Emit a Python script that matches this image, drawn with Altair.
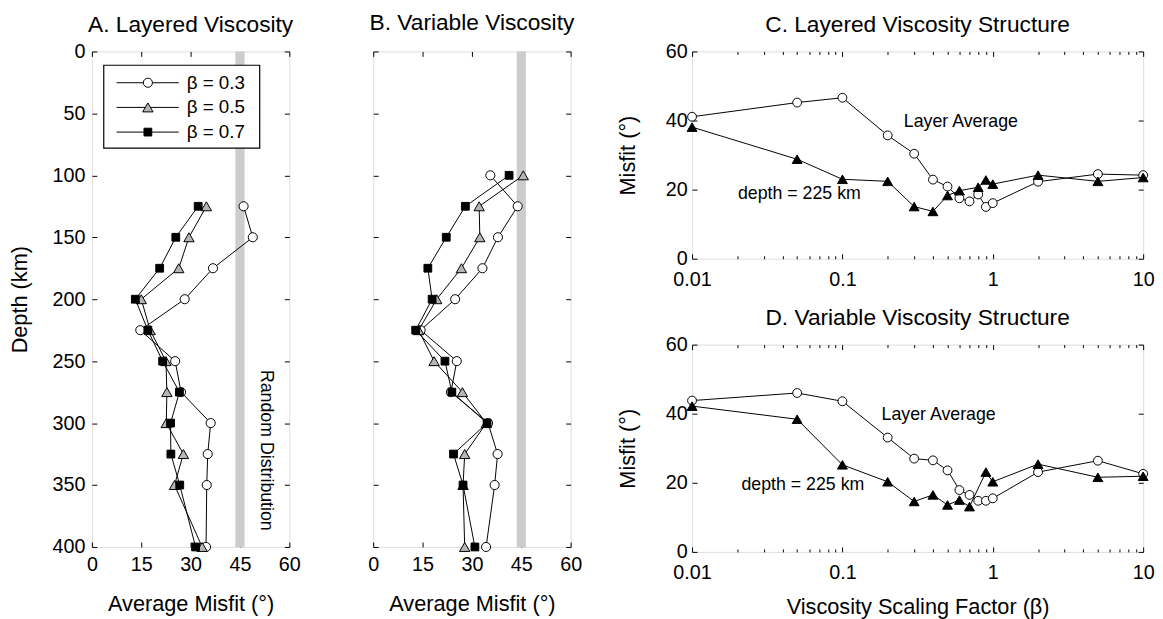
import altair as alt
import pandas as pd

FONT = "Liberation Sans"

# ---------------- data ----------------
series_labels = ["β = 0.3", "β = 0.5", "β = 0.7"]

# Panel A: Layered Viscosity
depth_A = [125, 150, 175, 200, 225, 250, 275, 300, 325, 350, 400]
A_beta03 = [46.1, 48.9, 36.8, 28.2, 14.7, 25.3, 27.1, 36.1, 35.2, 34.9, 34.7]
A_beta05 = [34.8, 29.5, 26.4, 15.0, 17.7, 22.5, 22.8, 22.6, 27.8, 25.1, 33.5]
A_beta07 = [32.3, 25.5, 20.6, 13.2, 17.0, 21.5, 26.6, 23.9, 24.0, 26.7, 31.5]

# Panel B: Variable Viscosity
depth_B = [100, 125, 150, 175, 200, 225, 250, 275, 300, 325, 350, 400]
B_beta03 = [35.6, 43.9, 37.9, 33.2, 24.9, 14.4, 25.4, 23.6, 34.9, 37.8, 36.9, 34.3]
B_beta05 = [45.6, 32.2, 32.4, 26.8, 19.3, 13.8, 18.5, 27.1, 34.4, 27.8, 27.3, 27.8]
B_beta07 = [41.3, 28.0, 22.2, 16.6, 17.9, 12.9, 21.8, 23.9, 34.6, 24.4, 27.3, 30.9]

# random-distribution misfit band (grey)
random_band = [43.6, 46.4]

# Panel C: Layered Viscosity Structure
beta_avg = [0.01, 0.05, 0.1, 0.2, 0.3, 0.4, 0.5, 0.6, 0.7, 0.8, 0.9, 1, 2, 5, 10]
C_avg = [41.1, 45.2, 46.6, 35.7, 30.4, 22.9, 20.9, 17.5, 16.6, 18.6, 15.0, 16.1, 22.3, 24.5, 24.2]
beta_C_225 = [0.01, 0.05, 0.1, 0.2, 0.3, 0.4, 0.5, 0.6, 0.8, 0.9, 1, 2, 5, 10]
C_225 = [38.1, 28.8, 23.0, 22.4, 15.1, 13.7, 18.3, 19.7, 20.7, 22.8, 21.6, 24.2, 22.4, 23.5]

# Panel D: Variable Viscosity Structure
D_avg = [43.8, 46.0, 43.6, 33.1, 27.0, 26.5, 23.6, 17.9, 16.5, 14.8, 14.8, 15.5, 23.1, 26.4, 22.6]
beta_D_225 = [0.01, 0.05, 0.1, 0.2, 0.3, 0.4, 0.5, 0.6, 0.7, 0.9, 1, 2, 5, 10]
D_225 = [42.2, 38.4, 25.2, 20.3, 14.6, 16.5, 13.6, 15.0, 13.1, 23.1, 20.3, 25.4, 21.6, 21.9]

# annotations
note_A_text = ["Random Distribution"]
note_A_misfit = [53]
note_A_depth = [322]
notes_CD_text = ["Layer Average", "depth = 225 km"]
notes_C_beta = [0.256, 0.0202]
notes_C_misfit = [39.7, 18.8]
notes_D_beta = [0.182, 0.0213]
notes_D_misfit = [39.5, 19.3]

# tick values
xticks_AB = [0, 15, 30, 45, 60]
yticks_AB = [0, 50, 100, 150, 200, 250, 300, 350, 400]
xticks_CD = [0.01, 0.1, 1, 10]
xminor_CD = [0.02, 0.03, 0.04, 0.05, 0.06, 0.07, 0.08, 0.09,
             0.2, 0.3, 0.4, 0.5, 0.6, 0.7, 0.8, 0.9,
             2, 3, 4, 5, 6, 7, 8, 9]
yticks_CD = [0, 20, 40, 60]

# ---------------- styling ----------------
W_AB, H_AB = 200, 502
W_CD, H_CD = 457, 210
TICK_FS, AXT_FS, TITLE_FS = 20, 22, 23

AB_MARK = {
    "β = 0.3": dict(shape="circle", fill="white", size=85),
    "β = 0.5": dict(shape="triangle-up", fill="#b5b5b5", size=110),
    "β = 0.7": dict(shape="square", fill="black", size=62),
}

TK = dict(labels=False, domain=False, grid=False, title=None,
          tickColor="black", tickWidth=1)


def lab_axis(orient, values, title, lpad, tpad, fmt=None):
    kw = dict(orient=orient, values=values, ticks=False, domain=False, grid=False,
              labelFont=FONT, labelFontSize=TICK_FS, labelColor="black",
              labelPadding=lpad, labelOverlap=False, labelFlush=False,
              titleFont=FONT, titleFontSize=AXT_FS, titleFontWeight="normal",
              titleColor="black", titlePadding=tpad)
    if fmt:
        kw["format"] = fmt
    kw["title"] = title
    return alt.Axis(**kw)


def carriers(df, X, Y, W, H, xlab, ylab, xmaj, ymaj, xmin=None, tmaj=5, tmin=3):
    base = alt.Chart(df).mark_point(opacity=0)
    out = [base.encode(x=X(xlab), y=Y(ylab))]
    out.append(base.encode(
        x=X(alt.Axis(orient="top", offset=-H, values=xmaj, tickSize=tmaj, **TK)),
        y=Y(alt.Axis(orient="right", offset=-W, values=ymaj, tickSize=tmaj, **TK))))
    out.append(base.encode(
        x=X(alt.Axis(orient="bottom", offset=-H, values=xmaj, tickSize=tmaj, **TK)),
        y=Y(alt.Axis(orient="left", offset=-W, values=ymaj, tickSize=tmaj, **TK))))
    if xmin:
        for o in ("top", "bottom"):
            out.append(base.encode(
                x=X(alt.Axis(orient=o, offset=-H, values=xmin, tickSize=tmin, **TK)),
                y=Y(None)))
    return out


def title_params(t, off):
    return alt.TitleParams(t, font=FONT, fontSize=TITLE_FS, fontWeight="normal",
                           color="black", offset=off, anchor="middle")


def panel_ab(depths, series_vals, title, show_y, legend, note, toff):
    xs = alt.Scale(domain=[0, 60], nice=False, zero=False)
    ys = alt.Scale(domain=[0, 400], reverse=True, nice=False, zero=False)

    def X(ax, f="misfit"):
        return alt.X(f"{f}:Q", scale=xs, axis=ax)

    def Y(ax, f="depth"):
        return alt.Y(f"{f}:Q", scale=ys, axis=ax)

    layers = []
    band = alt.Chart(pd.DataFrame({"lo": [random_band[0]], "hi": [random_band[1]]})).mark_rect(
        color="#cccccc").encode(x=X(None, "lo"), x2="hi:Q", y=alt.value(0), y2=alt.value(H_AB))
    layers.append(band)

    frames = []
    for lab, vals in zip(series_labels, series_vals):
        df = pd.DataFrame({"depth": depths, "misfit": vals})
        frames.append(df)
        st = AB_MARK[lab]
        layers.append(alt.Chart(df).mark_line(color="black", strokeWidth=1).encode(
            x=X(None), y=Y(None), order="depth:Q"))
        layers.append(alt.Chart(df).mark_point(
            filled=True, shape=st["shape"], fill=st["fill"], stroke="black",
            strokeWidth=1, size=st["size"], opacity=1, fillOpacity=1).encode(
            x=X(None), y=Y(None)))

    if note:
        ndf = pd.DataFrame({"t": note_A_text, "x": note_A_misfit, "d": note_A_depth})
        layers.append(alt.Chart(ndf).mark_text(
            angle=90, font=FONT, fontSize=18, align="center", baseline="middle",
            color="black").encode(x=X(None, "x"), y=Y(None, "d"), text="t:N"))

    if legend:
        box = alt.Chart(pd.DataFrame({"k": [0]})).mark_rect(
            fill="white", stroke="black", strokeWidth=1.2).encode(
            x=alt.value(12), x2=alt.value(170), y=alt.value(14), y2=alt.value(98))
        layers.append(box)
        for i, lab in enumerate(series_labels):
            py = 31.7 + 25 * i
            st = AB_MARK[lab]
            one = alt.Chart(pd.DataFrame({"label": [lab]}))
            layers.append(one.mark_rule(color="black", strokeWidth=1).encode(
                x=alt.value(25), x2=alt.value(88), y=alt.value(py)))
            layers.append(one.mark_point(
                filled=True, shape=st["shape"], fill=st["fill"], stroke="black",
                strokeWidth=1, size=st["size"], opacity=1, fillOpacity=1).encode(
                x=alt.value(56.7), y=alt.value(py)))
            layers.append(one.mark_text(
                align="left", baseline="middle", font=FONT, fontSize=19, color="black").encode(
                x=alt.value(96), y=alt.value(py), text="label:N"))

    allf = pd.concat(frames)
    xlab = lab_axis("bottom", xticks_AB, "Average Misfit (°)", 8, 19)
    ylab = lab_axis("left", yticks_AB, "Depth (km)", 7, 21) if show_y else None
    layers += carriers(allf, X, Y, W_AB, H_AB, xlab, ylab, xticks_AB, yticks_AB)

    return alt.layer(*layers).resolve_axis(x="independent", y="independent").properties(
        width=W_AB, height=H_AB, title=title_params(title, toff))


def panel_cd(avg_y, b225, y225, notes_b, notes_m, title, xtitle):
    xs = alt.Scale(type="log", domain=[0.01, 10], nice=False)
    ys = alt.Scale(domain=[0, 60], nice=False, zero=False)

    def X(ax, f="beta"):
        return alt.X(f"{f}:Q", scale=xs, axis=ax)

    def Y(ax, f="misfit"):
        return alt.Y(f"{f}:Q", scale=ys, axis=ax)

    avg = pd.DataFrame({"beta": beta_avg, "misfit": avg_y})
    d225 = pd.DataFrame({"beta": b225, "misfit": y225})
    layers = [
        alt.Chart(avg).mark_line(color="black", strokeWidth=1).encode(x=X(None), y=Y(None), order="beta:Q"),
        alt.Chart(avg).mark_point(filled=True, shape="circle", fill="white", stroke="black",
                                  strokeWidth=1, size=80, opacity=1, fillOpacity=1).encode(x=X(None), y=Y(None)),
        alt.Chart(d225).mark_line(color="black", strokeWidth=1).encode(x=X(None), y=Y(None), order="beta:Q"),
        alt.Chart(d225).mark_point(filled=True, shape="triangle-up", fill="black", stroke="black",
                                   strokeWidth=1, size=100, opacity=1, fillOpacity=1).encode(x=X(None), y=Y(None)),
    ]
    ndf = pd.DataFrame({"t": notes_CD_text, "beta": notes_b, "misfit": notes_m})
    layers.append(alt.Chart(ndf).mark_text(align="left", baseline="middle", font=FONT,
                                           fontSize=18, color="black").encode(
        x=X(None), y=Y(None), text="t:N"))
    xlab = lab_axis("bottom", xticks_CD, xtitle, 11, 14, fmt="~g")
    ylab = lab_axis("left", yticks_CD, "Misfit (°)", 5, 26)
    layers += carriers(avg, X, Y, W_CD, H_CD, xlab, ylab, xticks_CD, yticks_CD, xmin=xminor_CD)
    return alt.layer(*layers).resolve_axis(x="independent", y="independent").properties(
        width=W_CD, height=H_CD, title=title_params(title, 5))


pA = panel_ab(depth_A, [A_beta03, A_beta05, A_beta07], "A. Layered Viscosity", True, True, True, 5)
pB = panel_ab(depth_B, [B_beta03, B_beta05, B_beta07], "B. Variable Viscosity", False, False, False, 16)
pC = panel_cd(C_avg, beta_C_225, C_225, notes_C_beta, notes_C_misfit,
              "C. Layered Viscosity Structure", None)
pD = panel_cd(D_avg, beta_D_225, D_225, notes_D_beta, notes_D_misfit,
              "D. Variable Viscosity Structure", "Viscosity Scaling Factor (β)")

left = alt.hconcat(pA, pB, spacing=66)
right = alt.vconcat(pC, pD, spacing=16)
chart = alt.hconcat(left, right, spacing=34).properties(
    padding={"left": 0, "top": 0, "right": 0, "bottom": 0}
).configure_view(stroke="black", strokeWidth=1.2).configure(background="white")

chart.save("out.html", embed_options={"renderer": "svg", "actions": False})
